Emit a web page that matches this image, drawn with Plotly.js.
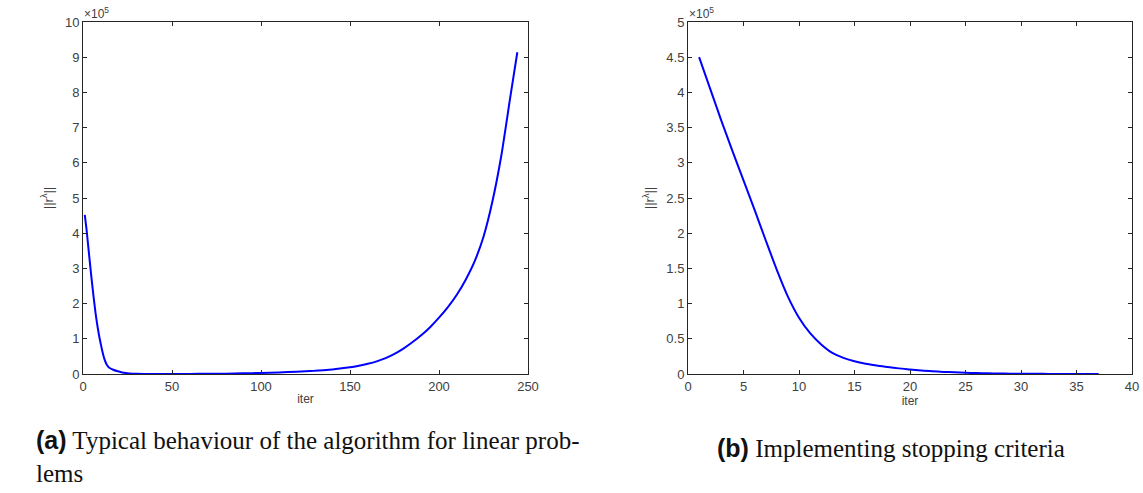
<!DOCTYPE html>
<html>
<head>
<meta charset="utf-8">
<script src="https://cdn.plot.ly/plotly-3.0.1.min.js"></script>
<style>html,body{margin:0;padding:0;background:#fff;}#chart{width:1143px;height:493px;}</style>
</head>
<body>
<div id="chart"></div>
<script>
// Panel (a): norm of r^lambda (in units of 1e5) vs iteration
const iterA = [1, 2, 3, 4, 5, 6, 7, 8, 9, 10, 11, 12, 13, 14, 15, 17, 19, 22, 26, 30, 40, 50, 60, 70, 80, 90, 100, 110, 120, 130, 140, 150, 155, 160, 165, 170, 175, 180, 185, 190, 195, 200, 205, 210, 215, 220, 225, 230, 235, 240, 244];
const normA = [4.52, 4.1, 3.6, 3.1, 2.62, 2.17, 1.75, 1.4, 1.1, 0.85, 0.62, 0.43, 0.3, 0.22, 0.17, 0.12, 0.085, 0.045, 0.015, 0.005, 0.002, 0.002, 0.003, 0.006, 0.01, 0.018, 0.03, 0.045, 0.065, 0.09, 0.13, 0.19, 0.235, 0.29, 0.36, 0.45, 0.57, 0.72, 0.9, 1.1, 1.33, 1.6, 1.9, 2.25, 2.68, 3.2, 3.9, 4.9, 6.2, 7.85, 9.14];

// Panel (b): with stopping criteria
const iterB = [1, 2, 3, 4, 5, 6, 7, 8, 9, 10, 11, 12, 13, 14, 15, 16, 17, 18, 19, 20, 21, 22, 23, 24, 25, 26, 27, 28, 29, 30, 31, 32, 33, 34, 35, 36, 37];
const normB = [4.5, 4.05, 3.6, 3.17, 2.75, 2.33, 1.9, 1.48, 1.1, 0.8, 0.58, 0.42, 0.3, 0.23, 0.18, 0.145, 0.12, 0.1, 0.08, 0.065, 0.05, 0.04, 0.03, 0.024, 0.018, 0.013, 0.01, 0.007, 0.005, 0.004, 0.003, 0.002, 0.0015, 0.001, 0.001, 0.0008, 0.0006];

const xTitle = 'iter';
const yTitle = '||r<sup>λ</sup>||';
const expLabel = '×10<sup>5</sup>';
const captionA = '<b style="font-family:Liberation Sans">(a)</b> Typical behaviour of the algorithm for linear prob-<br>lems';
const captionB = '<b style="font-family:Liberation Sans">(b)</b> Implementing stopping criteria';

const W = 1143, H = 493;
const axCol = '#262626';
const sans = 'Liberation Sans, Arial, sans-serif';
const tickFont = {family: sans, size: 13, color: '#404040'};

function xax(domain, range, dtick) {
  return {domain: domain, range: range, dtick: dtick, tick0: 0, ticks: 'inside', ticklen: 4,
    tickcolor: axCol, showline: true, linecolor: axCol, linewidth: 1, mirror: 'ticks',
    showgrid: false, zeroline: false, tickfont: tickFont, fixedrange: true,
    title: {text: xTitle, font: {family: sans, size: 12, color: '#404040'}, standoff: 2}};
}
function yax(range, dtick, anchor) {
  return {domain: [1 - 374 / H, 1 - 22 / H], range: range, dtick: dtick, tick0: 0, ticks: 'inside', ticklen: 4,
    tickcolor: axCol, showline: true, linecolor: axCol, linewidth: 1, mirror: 'ticks', anchor: anchor,
    showgrid: false, zeroline: false, tickfont: tickFont, fixedrange: true,
    title: {text: yTitle, font: {family: sans, size: 13, color: '#404040'}, standoff: 8}};
}

const traces = [
  {x: iterA, y: normA, type: 'scatter', mode: 'lines', line: {color: '#0000ff', width: 2, shape: 'spline', smoothing: 0.5}, xaxis: 'x', yaxis: 'y', hoverinfo: 'skip'},
  {x: iterB, y: normB, type: 'scatter', mode: 'lines', line: {color: '#0000ff', width: 2, shape: 'spline', smoothing: 0.6}, xaxis: 'x2', yaxis: 'y2', hoverinfo: 'skip'}
];

const layout = {
  width: W, height: H, margin: {l: 0, r: 0, t: 0, b: 0},
  paper_bgcolor: '#fff', plot_bgcolor: '#fff', showlegend: false,
  xaxis: xax([83 / W, 528 / W], [0, 250], 50),
  yaxis: yax([0, 10], 1, 'x'),
  xaxis2: xax([688 / W, 1132 / W], [0, 40], 5),
  yaxis2: yax([0, 5], 0.5, 'x2'),
  annotations: [
    {text: expLabel, xref: 'paper', yref: 'paper', x: 82 / W, y: 1 - 13 / H, xanchor: 'left', yanchor: 'middle', showarrow: false, font: {family: sans, size: 12, color: '#404040'}},
    {text: expLabel, xref: 'paper', yref: 'paper', x: 687 / W, y: 1 - 13 / H, xanchor: 'left', yanchor: 'middle', showarrow: false, font: {family: sans, size: 12, color: '#404040'}},
    {text: captionA, xref: 'paper', yref: 'paper', x: 34 / W, y: 1 - 456 / H, xanchor: 'left', yanchor: 'middle', align: 'left', showarrow: false,
     font: {family: 'Liberation Serif, serif', size: 25, color: '#111'}},
    {text: captionB, xref: 'paper', yref: 'paper', x: 715 / W, y: 1 - 448 / H, xanchor: 'left', yanchor: 'middle', align: 'left', showarrow: false,
     font: {family: 'Liberation Serif, serif', size: 25, color: '#111'}}
  ]
};

Plotly.newPlot('chart', traces, layout, {staticPlot: true, displayModeBar: false});
</script>
</body>
</html>
